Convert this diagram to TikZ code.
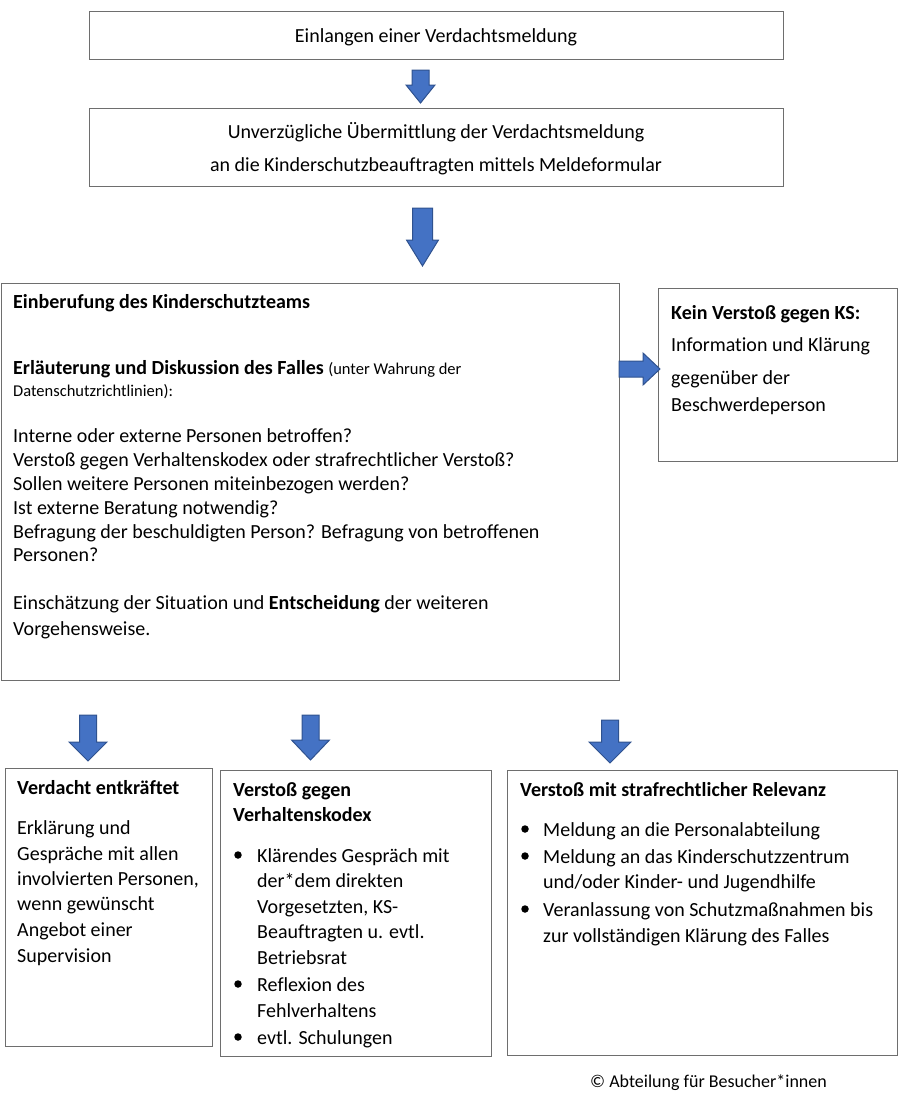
\documentclass[tikz,border=0pt]{standalone}
\usepackage{fontspec}
\setmainfont{Carlito}[Ligatures={NoCommon}]
\definecolor{arrfill}{RGB}{68,114,196}
\definecolor{arrline}{RGB}{47,82,143}
\definecolor{boxline}{RGB}{110,110,110}
\newcommand\blkdown[6]{% cx, top, headstart, tip, shafthalf, headhalf
  \draw[arrow] (#1-#5,#2) -- (#1+#5,#2) -- (#1+#5,#3) -- (#1+#6,#3) -- (#1,#4) -- (#1-#6,#3) -- (#1-#5,#3) -- cycle;}
\begin{document}
\begin{tikzpicture}[x=1pt,y=-1pt,
  box/.style={draw=boxline,line width=1pt},
  arrow/.style={fill=arrfill,draw=arrline,line width=1pt,line join=miter},
  txt/.style={anchor=mid west,inner sep=0pt,yshift=-5.5pt,font=\fontsize{20}{24}\selectfont},
  ctxt/.style={anchor=mid,inner sep=0pt,yshift=-5.5pt,font=\fontsize{20}{24}\selectfont},
  small/.style={font=\fontsize{16.5}{19}\selectfont},
  bul/.style={circle,fill=black,inner sep=0pt,minimum size=7.5pt}]
\useasboundingbox (0,0) rectangle (900,1095);
% boxes
\draw[box] (89,11) rectangle (783,59);
\draw[box] (89,108) rectangle (783,186);
\draw[box] (1,283) rectangle (619,680);
\draw[box] (658,288) rectangle (897,461);
\draw[box] (5,768) rectangle (212,1046);
\draw[box] (220,770) rectangle (491,1056);
\draw[box] (507,770) rectangle (897,1055);
% arrows
\blkdown{420.5}{70}{85}{103}{8.5}{14.5}
\blkdown{422.5}{208}{240}{266}{10}{16}
\draw[arrow] (619,361) -- (643,361) -- (643,353) -- (660,369) -- (643,385) -- (643,377) -- (619,377) -- cycle;
\blkdown{88}{715}{742}{761}{8.5}{19}
\blkdown{310.5}{715}{740}{760}{8.5}{19}
\blkdown{610}{720}{742}{763}{8.5}{21}
% top texts
\node[ctxt] (t1) at (436,35) {Einlangen einer Verdachtsmeldung};
\node[ctxt] (t2a) at (436,131) {Unverzügliche Übermittlung der Verdachtsmeldung};
\node[ctxt] (t2b) at (436,164) {an die Kinderschutzbeauftragten mittels Meldeformular};
% main box
\node[txt] (m1) at (13,301) {\textbf{Einberufung des Kinderschutzteams}};
\node[txt] (m2) at (13,367) {\textbf{Erläuterung und Diskussion des Falles} {\fontsize{16.5}{19}\selectfont(unter Wahrung der}};
\node[txt,small] (m3) at (13,389) {Datenschutzrichtlinien):};
\node[txt] (m4) at (13,435) {Interne oder externe Personen betroffen?};
\node[txt] (m5) at (13,459) {Verstoß gegen Verhaltenskodex oder strafrechtlicher Verstoß?};
\node[txt] (m6) at (13,483) {Sollen weitere Personen miteinbezogen werden?};
\node[txt] (m7) at (13,507) {Ist externe Beratung notwendig?};
\node[txt] (m8) at (13,531) {Befragung der beschuldigten Person? Befragung von betroffenen};
\node[txt] (m9) at (13,554) {Personen?};
\node[txt] (m10) at (13,602) {Einschätzung der Situation und \textbf{Entscheidung} der weiteren};
\node[txt] (m11) at (13,628) {Vorgehensweise.};
% right box
\node[txt] (r1) at (671,312) {\textbf{Kein Verstoß gegen KS:}};
\node[txt] (r2) at (671,344) {Information und Klärung};
\node[txt] (r3) at (671,377) {gegenüber der};
\node[txt] (r4) at (671,404) {Beschwerdeperson};
% box A
\node[txt] (a1) at (17,787) {\textbf{Verdacht entkräftet}};
\node[txt] (a2) at (17,827) {Erklärung und};
\node[txt] (a3) at (17,853) {Gespräche mit allen};
\node[txt] (a4) at (17,878) {involvierten Personen,};
\node[txt] (a5) at (17,903) {wenn gewünscht};
\node[txt] (a6) at (17,929) {Angebot einer};
\node[txt] (a7) at (17,955) {Supervision};
% box B
\node[txt] (b1) at (233,789) {\textbf{Verstoß gegen}};
\node[txt] (b2) at (233,814) {\textbf{Verhaltenskodex}};
\node[bul] (bb1) at (238,855) {};
\node[txt] (b3) at (257,855) {Klärendes Gespräch mit};
\node[txt] (b4) at (257,880) {der*dem direkten};
\node[txt] (b5) at (257,906) {Vorgesetzten, KS-};
\node[txt] (b6) at (257,931) {Beauftragten u. evtl.};
\node[txt] (b7) at (257,957) {Betriebsrat};
\node[bul] (bb2) at (238,984) {};
\node[txt] (b8) at (257,984) {Reflexion des};
\node[txt] (b9) at (257,1010) {Fehlverhaltens};
\node[bul] (bb3) at (238,1037) {};
\node[txt] (b10) at (257,1037) {evtl. Schulungen};
% box C
\node[txt] (c1) at (520,789) {\textbf{Verstoß mit strafrechtlicher Relevanz}};
\node[bul] (cb1) at (525,829) {};
\node[txt] (c2) at (543,829) {Meldung an die Personalabteilung};
\node[bul] (cb2) at (525,856) {};
\node[txt] (c3) at (543,856) {Meldung an das Kinderschutzzentrum};
\node[txt] (c4) at (543,881) {und/oder Kinder- und Jugendhilfe};
\node[bul] (cb3) at (525,909) {};
\node[txt] (c5) at (543,909) {Veranlassung von Schutzmaßnahmen bis};
\node[txt] (c6) at (543,935) {zur vollständigen Klärung des Falles};
% copyright
\node[txt,font=\fontsize{18}{21}\selectfont] (cp) at (590,1080) {© Abteilung für Besucher*innen};
\end{tikzpicture}
\end{document}
